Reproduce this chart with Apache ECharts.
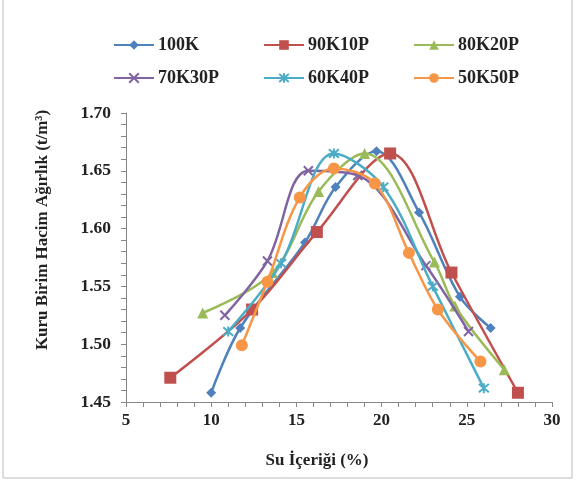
<!DOCTYPE html>
<html><head><meta charset="utf-8">
<script src="https://cdn.jsdelivr.net/npm/echarts@6/dist/echarts.min.js"></script>
<style>html,body{margin:0;padding:0;background:#fff}#c{width:580px;height:489px}</style>
</head><body><div id="c"></div>
<script>
const seriesNames = ['100K','90K10P','80K20P','70K30P','60K40P','50K50P'];
const s100K = [[10.0,1.458],[11.7,1.514],[15.5,1.588],[17.3,1.636],[19.7,1.667],[22.2,1.614],[24.6,1.541],[26.4,1.514]];
const s90K10P = [[7.6,1.471],[12.4,1.530],[16.2,1.597],[20.5,1.665],[24.1,1.562],[28.0,1.458]];
const s80K20P = [[9.5,1.527],[13.6,1.562],[16.3,1.632],[19.0,1.665],[23.1,1.571],[24.3,1.533],[27.2,1.478]];
const s70K30P = [[10.8,1.525],[13.3,1.572],[15.7,1.650],[18.6,1.646],[22.6,1.568],[25.1,1.511]];
const s60K40P = [[11.0,1.511],[14.1,1.570],[17.2,1.665],[20.1,1.636],[23.0,1.550],[26.0,1.462]];
const s50K50P = [[11.8,1.499],[13.3,1.554],[15.2,1.627],[17.2,1.652],[19.6,1.639],[21.6,1.579],[23.3,1.530],[25.8,1.485]];
const xTitle = 'Su İçeriği (%)';
const yTitle = 'Kuru Birim Hacim Ağırlık (t/m³)';

const colors = ['#4F81BD','#C0504D','#9BBB59','#8064A2','#4BACC6','#F79646'];
const symbols = ['diamond','rect','triangle','path://M0,0L10,10M10,0L0,10','path://M0,0L10,10M10,0L0,10M5,-1L5,11','circle'];
const sizes = [10,12,11,9,10,12];
const datas = [s100K,s90K10P,s80K20P,s70K30P,s60K40P,s50K50P];
const FONT = '"Liberation Serif","Times New Roman",serif';

const chart = echarts.init(document.getElementById('c'), null, {renderer:'canvas'});
const series = datas.map((d,i)=>({
  name: seriesNames[i], type:'line', data:d, smooth:0.35,
  symbol: symbols[i], symbolSize: sizes[i],
  lineStyle:{color:colors[i], width:2.5},
  itemStyle:{color:colors[i], borderColor:colors[i], borderWidth:(i===3||i===4)?2:0},
  z: 2+i
}));
const legPos = [[113,36],[263,36],[413,36],[113,69],[263,69],[413,69]];
const legends = seriesNames.map((n,i)=>({
  data:[n], left:legPos[i][0], top:legPos[i][1], itemWidth:40, itemHeight:12, itemGap:4, padding:0,
  textStyle:{fontFamily:FONT, fontWeight:'bold', fontSize:18, color:'#222', padding:[0,0,0,-1]}, selectedMode:false
}));
chart.setOption({
  animation:false,
  backgroundColor:'#fff',
  color: colors,
  legend: legends,
  grid:{left:126, right:28, top:113, bottom:87},
  xAxis:{type:'value', min:5, max:30, interval:5,
    axisLine:{lineStyle:{color:'#868686', width:1}},
    axisTick:{show:true, length:5, lineStyle:{color:'#868686'}},
    minorTick:{show:true, splitNumber:5, length:5, lineStyle:{color:'#868686'}},
    splitLine:{show:false},
    axisLabel:{fontFamily:FONT, fontWeight:'bold', fontSize:17, color:'#222', margin:10}
  },
  yAxis:{type:'value', min:1.45, max:1.70, interval:0.05,
    axisLine:{show:true, lineStyle:{color:'#868686', width:1}},
    axisTick:{show:true, length:5, lineStyle:{color:'#868686'}},
    minorTick:{show:true, splitNumber:5, length:5, lineStyle:{color:'#868686'}},
    splitLine:{show:false},
    axisLabel:{fontFamily:FONT, fontWeight:'bold', fontSize:17.5, color:'#222', margin:15,
      formatter:v=>v.toFixed(2)}
  },
  graphic:[
    {type:'rect', shape:{x:3,y:-2,width:569,height:480}, style:{fill:'none', stroke:'#BBBBBB', lineWidth:1}, silent:true},
    {type:'text', x:43, y:230, rotation:Math.PI/2, style:{text:yTitle, fontFamily:FONT, fontWeight:'bold', fontSize:17, fill:'#222', textAlign:'center', textVerticalAlign:'middle'}},
    {type:'text', x:317, y:461, style:{text:xTitle, fontFamily:FONT, fontWeight:'bold', fontSize:17, fill:'#222', textAlign:'center', textVerticalAlign:'middle'}}
  ],
  series: series
});
</script></body></html>
